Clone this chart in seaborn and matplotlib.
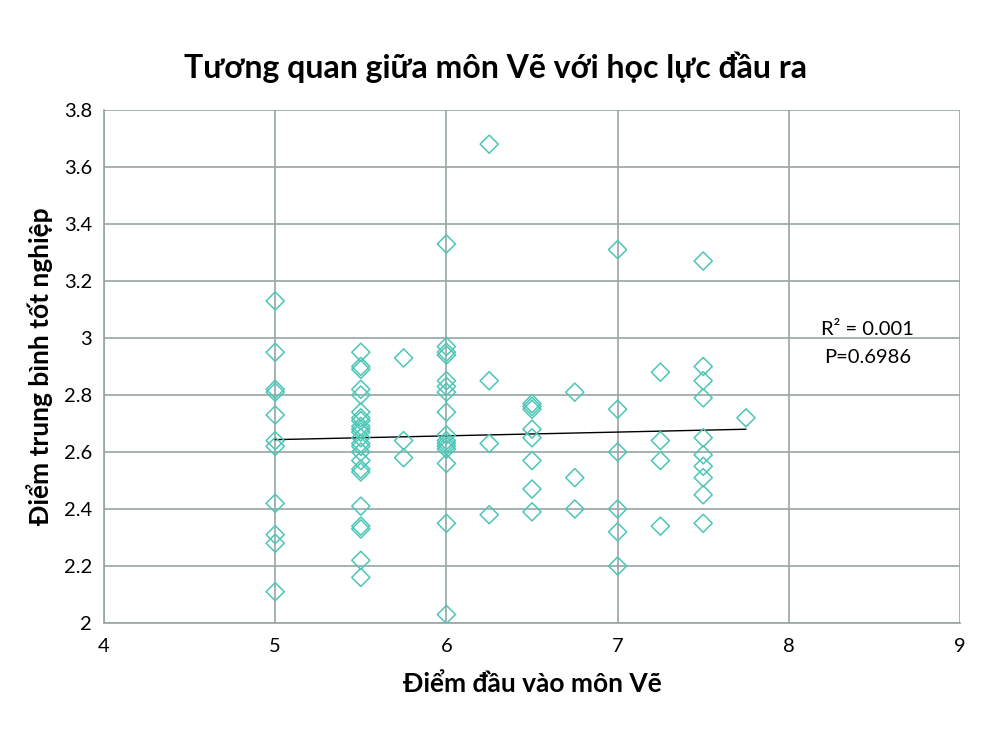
import numpy as np
import pandas as pd
import seaborn as sns
import matplotlib
matplotlib.use('Agg')
import matplotlib.pyplot as plt
from matplotlib.ticker import FuncFormatter

# diem dau vao mon Ve (x) va diem trung binh tot nghiep (y), doc tu hinh
x_5 = [5] * 11
y_5 = [3.13, 2.95, 2.82, 2.81, 2.73, 2.64, 2.62, 2.42, 2.31, 2.28, 2.11]
x_55 = [5.5] * 23
y_55 = [2.95, 2.90, 2.89, 2.82, 2.80, 2.74, 2.72, 2.71, 2.69, 2.68, 2.67, 2.65,
        2.63, 2.62, 2.60, 2.57, 2.54, 2.53, 2.41, 2.34, 2.33, 2.22, 2.16]
x_575 = [5.75] * 3
y_575 = [2.93, 2.64, 2.58]
x_6 = [6] * 16
y_6 = [3.33, 2.97, 2.95, 2.94, 2.85, 2.83, 2.81, 2.74, 2.66, 2.64, 2.63, 2.62,
       2.61, 2.56, 2.35, 2.03]
x_625 = [6.25] * 4
y_625 = [3.68, 2.85, 2.63, 2.38]
x_65 = [6.5] * 8
y_65 = [2.77, 2.76, 2.75, 2.68, 2.65, 2.57, 2.47, 2.39]
x_675 = [6.75] * 3
y_675 = [2.81, 2.51, 2.40]
x_7 = [7] * 6
y_7 = [3.31, 2.75, 2.60, 2.40, 2.32, 2.20]
x_725 = [7.25] * 4
y_725 = [2.88, 2.64, 2.57, 2.34]
x_75 = [7.5] * 10
y_75 = [3.27, 2.90, 2.85, 2.79, 2.65, 2.59, 2.55, 2.51, 2.45, 2.35]
x_775 = [7.75]
y_775 = [2.72]

df = pd.DataFrame({
    'Ve': x_5 + x_55 + x_575 + x_6 + x_625 + x_65 + x_675 + x_7 + x_725 + x_75 + x_775,
    'TB': y_5 + y_55 + y_575 + y_6 + y_625 + y_65 + y_675 + y_7 + y_725 + y_75 + y_775,
})

sns.set_style('white')
plt.rcParams['font.family'] = ['Lato', 'DejaVu Sans']
plt.rcParams['text.color'] = 'black'
plt.rcParams['axes.labelcolor'] = 'black'

fig = plt.figure(figsize=(10, 7.41), dpi=100)
ax = fig.add_axes([0.104, 0.1592, 0.856, 0.6924])

grid_c = '#97a5a5'
sns.scatterplot(data=df, x='Ve', y='TB', marker='D', s=85, facecolor='none',
                edgecolor='#4cc6b6', linewidth=1.1, ax=ax, zorder=3)
sns.regplot(data=df, x='Ve', y='TB', scatter=False, ci=None, ax=ax,
            line_kws=dict(color='black', lw=1), truncate=True)

ax.set_xlim(4, 9)
ax.set_ylim(2, 3.8)
ax.set_xticks([4, 5, 6, 7, 8, 9])
ax.set_yticks(np.arange(2, 3.81, 0.2))
ax.yaxis.set_major_formatter(FuncFormatter(lambda v, p: '{:g}'.format(round(v, 1))))
ax.grid(True, color=grid_c, lw=1.2)
ax.set_axisbelow(True)
for s in ['top', 'right']:
    ax.spines[s].set_visible(False)
for s in ['left', 'bottom']:
    ax.spines[s].set_color(grid_c)
    ax.spines[s].set_linewidth(1.2)
ax.tick_params(axis='both', length=5, width=1.2, color=grid_c, labelsize=14.5,
               labelcolor='black', direction='out')
ax.tick_params(axis='x', pad=6)

ax.set_xlabel('Điểm đầu vào môn Vẽ', fontsize=19, fontweight='bold', labelpad=12)
ax.set_ylabel('Điểm trung bình tốt nghiệp', fontsize=19, fontweight='bold', labelpad=8)
fig.suptitle('Tương quan giữa môn Vẽ với học lực đầu ra', fontsize=23,
             fontweight='bold', x=0.495, y=0.93)

ax.text(8.46, 3.03, 'R² = 0.001', ha='center', va='center', fontsize=14.5)
ax.text(8.46, 2.93, 'P=0.6986', ha='center', va='center', fontsize=14.5)

fig.savefig('out.png', dpi=100)
